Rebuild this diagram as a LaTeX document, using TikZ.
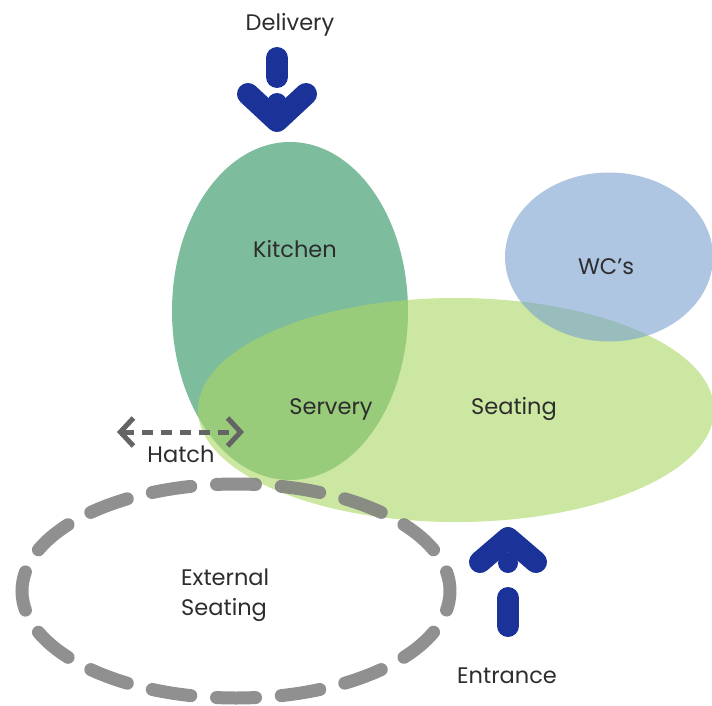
\documentclass[tikz,border=0pt]{standalone}
\usepackage{fontspec}
\setmainfont{Poppins}
\usetikzlibrary{shapes.geometric,arrows.meta}
\definecolor{kitchenc}{RGB}{70,160,115}
\definecolor{seatc}{RGB}{170,215,100}
\definecolor{wcc}{RGB}{120,160,205}
\definecolor{extc}{RGB}{125,125,125}
\definecolor{hatchc}{RGB}{100,100,100}
\definecolor{arrowc}{RGB}{27,50,152}
\definecolor{textc}{RGB}{45,45,45}
\tikzset{
  zone/.style={ellipse, draw=none, inner sep=0pt, outer sep=0pt},
  lbl/.style={text=textc, font=\fontsize{22.5}{30}\selectfont, inner sep=0pt, anchor=base},
  bigarrow/.style={draw=arrowc, line width=22pt, line cap=round, line join=round},
  extzone/.style={ellipse, inner sep=0pt, draw=extc, draw opacity=0.85, line width=13pt,
    line cap=round, dash pattern=on 39pt off 25.8pt, dash phase=19.5pt},
  hatcharrow/.style={draw=hatchc, line width=5pt, dash pattern=on 11pt off 8pt,
    {Straight Barb[length=13pt,width=28pt]}-{Straight Barb[length=13pt,width=28pt]}}
}
\begin{document}
\begin{tikzpicture}[x=1pt,y=-1pt]
\useasboundingbox (0,0) rectangle (712,706);
% zones
\node[zone, fill=kitchenc, fill opacity=0.7, minimum width=236pt, minimum height=338pt] (kitchen) at (290,311) {};
\node[zone, fill=seatc, fill opacity=0.6, minimum width=516pt, minimum height=224pt] (seating) at (456,410) {};
\node[zone, fill=wcc, fill opacity=0.6, minimum width=208pt, minimum height=169pt] (wc) at (609,257) {};
\node[extzone, minimum width=428pt, minimum height=214pt] (ext) at (236,591) {};
% labels
\node[lbl] (tdel) at (290,31) {Delivery};
\node[lbl] (tkit) at (295,257) {Kitchen};
\node[lbl] (twc) at (606,274) {WC's};
\node[lbl] (tserv) at (331,414) {Servery};
\node[lbl] (tseat) at (514,414) {Seating};
\node[lbl] (thatch) at (181,462) {Hatch};
\node[lbl, anchor=base west] (text1) at (181,585) {External};
\node[lbl, anchor=base west] (text2) at (181,615) {Seating};
\node[lbl] (tent) at (507,683) {Entrance};
% delivery arrow
\coordinate (d1) at (277,58);
\coordinate (d2) at (277,77);
\coordinate (dl) at (248,94);
\coordinate (dt) at (277,121);
\coordinate (dr) at (306,94);
\coordinate (dn) at (277,103);
\draw[bigarrow] (d1) -- (d2);
\draw[bigarrow] (dl) -- (dt) -- (dr);
\fill[arrowc] (dn) circle[radius=10pt];
% entrance arrow
\coordinate (e1) at (508,598);
\coordinate (e2) at (508,626);
\coordinate (el) at (480,562);
\coordinate (et) at (508,538);
\coordinate (er) at (536,562);
\coordinate (en) at (508,563);
\draw[bigarrow] (e1) -- (e2);
\draw[bigarrow] (el) -- (et) -- (er);
\fill[arrowc] (en) circle[radius=10pt];
% hatch arrow
\coordinate (hL) at (117,432);
\coordinate (hR) at (244,432);
\draw[hatcharrow] (hL) -- (hR);
\end{tikzpicture}
\end{document}
